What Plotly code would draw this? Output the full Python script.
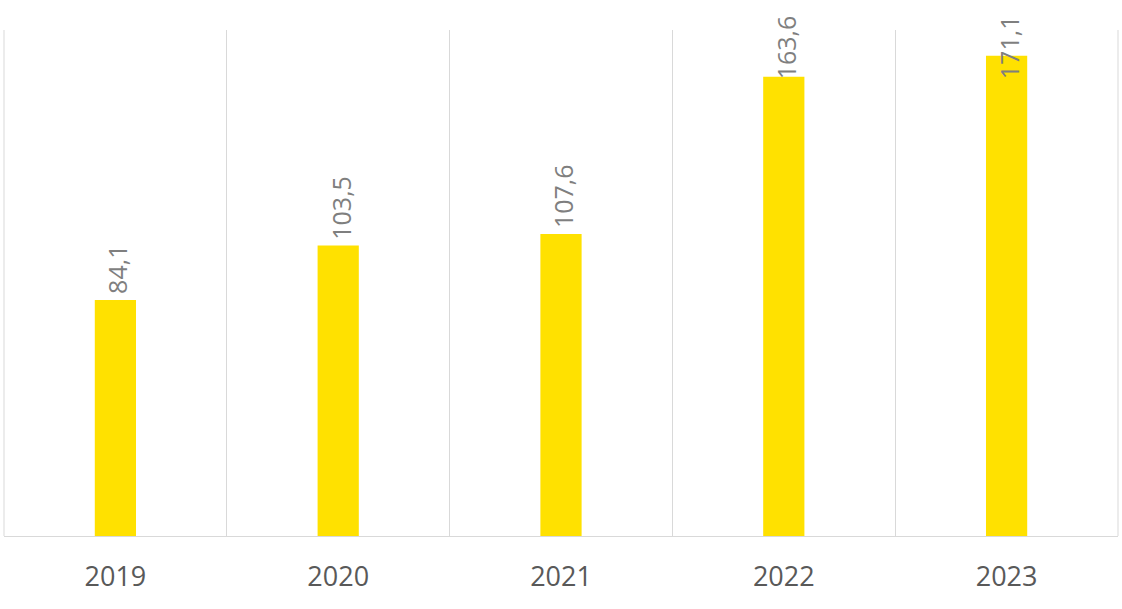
import plotly.graph_objects as go

years = ["2019", "2020", "2021", "2022", "2023"]
values = [84.1, 103.5, 107.6, 163.6, 171.1]
labels = ["84,1", "103,5", "107,6", "163,6", "171,1"]

LABEL_CAP = 160.5  # labels kept inside the plot area like the original

fig = go.Figure()
fig.add_trace(go.Bar(
    x=years, y=values,
    marker=dict(color="#FFE100", line=dict(width=0)),
    hoverinfo="x+y",
))

for i, (v, t) in enumerate(zip(values, labels)):
    fig.add_annotation(
        x=i, y=min(v, LABEL_CAP), text=t, textangle=-90,
        showarrow=False, xanchor="center", yanchor="bottom", yshift=4,
        xshift=2,
        font=dict(family="Open Sans", size=25, color="#7F7F7F"),
    )

fig.update_layout(
    width=1122, height=609,
    margin=dict(l=4, r=4, t=30, b=73),
    paper_bgcolor="white", plot_bgcolor="white",
    bargap=0.815,
    showlegend=False,
    xaxis=dict(
        type="category", tickson="boundaries", range=[-0.5, 4.5],
        showgrid=True, gridcolor="#D9D9D9", gridwidth=1,
        showline=True, linecolor="#D9D9D9", linewidth=1, mirror=False,
        ticks="", tickangle=0, ticklabelstandoff=17,
        tickfont=dict(family="Open Sans", size=27, color="#595959"),
    ),
    yaxis=dict(
        range=[0, 180.3], showgrid=False, zeroline=False,
        showticklabels=False, ticks="",
    ),
    shapes=[
        dict(type="line", xref="paper", yref="paper", x0=0, x1=0, y0=0, y1=1,
             line=dict(color="#D9D9D9", width=1)),
        dict(type="line", xref="paper", yref="paper", x0=1, x1=1, y0=0, y1=1,
             line=dict(color="#D9D9D9", width=1)),
    ],
)

fig.write_html(
    "out.html",
    config={"displayModeBar": False},
    post_script="document.body.style.margin='0';document.body.style.overflow='hidden';",
)
